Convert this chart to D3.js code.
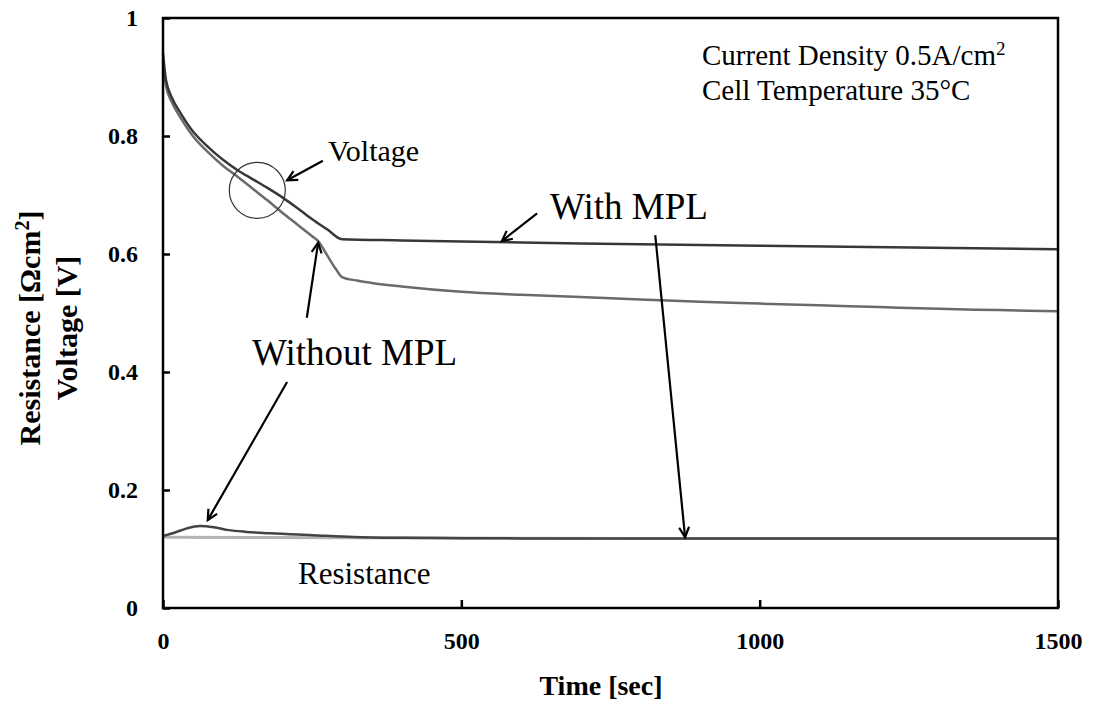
<!DOCTYPE html>
<html>
<head>
<meta charset="utf-8">
<script src="https://cdn.jsdelivr.net/npm/d3@7"></script>
<style>
  body { margin: 0; background: #fff; }
  text { font-family: "Liberation Serif", "Times New Roman", serif; fill: #000; }
</style>
</head>
<body>
<div id="chart"></div>
<script>
// tick values
var xTicks = [0, 500, 1000, 1500];
var yTicks = [0, 0.2, 0.4, 0.6, 0.8, 1];

// voltage, with MPL
var withMplTime = [0, 5, 15, 30, 50, 75, 100, 125, 150, 175, 200, 225, 250, 275, 300, 400, 500, 700, 1000, 1500];
var withMplVoltage = [0.94, 0.895, 0.865, 0.838, 0.808, 0.782, 0.760, 0.742, 0.727, 0.712, 0.696, 0.678, 0.659, 0.642, 0.625, 0.623, 0.621, 0.618, 0.614, 0.608];

// voltage, without MPL
var withoutMplTime = [0, 5, 15, 30, 50, 75, 100, 125, 150, 175, 200, 225, 250, 260, 275, 290, 300, 325, 350, 400, 500, 600, 700, 800, 900, 1000, 1100, 1200, 1300, 1400, 1500];
var withoutMplVoltage = [0.93, 0.885, 0.857, 0.83, 0.80, 0.773, 0.75, 0.731, 0.711, 0.691, 0.670, 0.65, 0.630, 0.622, 0.598, 0.574, 0.561, 0.555, 0.551, 0.545, 0.536, 0.531, 0.527, 0.523, 0.519, 0.516, 0.513, 0.51, 0.507, 0.505, 0.503];

// resistance
var withoutMplResTime = [0, 20, 40, 62, 85, 110, 140, 180, 250, 320, 400, 500, 600, 1000, 1500];
var withoutMplRes = [0.122, 0.128, 0.135, 0.139, 0.137, 0.132, 0.129, 0.1265, 0.1235, 0.1205, 0.119, 0.1183, 0.118, 0.118, 0.118];
var withMplResTime = [0, 300, 800, 1500];
var withMplRes = [0.120, 0.119, 0.118, 0.118];

var svgWidth = 1094;
var svgHeight = 711;

var margin = { top: 18, right: 36, bottom: 103, left: 163 };
var chartWidth = svgWidth - margin.left - margin.right;
var chartHeight = svgHeight - margin.top - margin.bottom;

var svg = d3.select("#chart")
            .append("svg")
            .attr("width", svgWidth)
            .attr("height", svgHeight);

var defs = svg.append("defs");
defs.append("marker")
    .attr("id", "head")
    .attr("markerUnits", "userSpaceOnUse")
    .attr("markerWidth", 14)
    .attr("markerHeight", 14)
    .attr("refX", 11)
    .attr("refY", 6)
    .attr("orient", "auto")
    .append("path")
    .attr("d", "M1,1 L11,6 L1,11")
    .attr("fill", "none")
    .attr("stroke", "#000")
    .attr("stroke-width", 2.2);

var chartGroup = svg.append("g").attr("transform", `translate(${margin.left}, ${margin.top})`);

var xScale = d3.scaleLinear().domain([0, 1500]).range([0, chartWidth]);
var yScale = d3.scaleLinear().domain([0, 1]).range([chartHeight, 0]);

var yFmt = d => (d === 0 || d === 1) ? String(d) : d.toFixed(1);

var xAxis = d3.axisBottom(xScale).tickValues(xTicks).tickSizeInner(-8).tickSizeOuter(0).tickPadding(24).tickFormat(d3.format("d"));
var yAxis = d3.axisLeft(yScale).tickValues(yTicks).tickSizeInner(-7).tickSizeOuter(0).tickPadding(25).tickFormat(yFmt);

var gx = chartGroup.append("g")
    .attr("transform", `translate(0, ${chartHeight})`)
    .call(xAxis);
var gy = chartGroup.append("g").call(yAxis);

[gx, gy].forEach(function(g) {
    g.select(".domain").remove();
    g.selectAll(".tick line").attr("stroke", "#000").attr("stroke-width", 2.5);
    g.selectAll(".tick text")
     .style("font-family", "'Liberation Serif', 'Times New Roman', serif")
     .style("font-size", "24px")
     .style("font-weight", "bold")
     .attr("fill", "#111");
});

// series
var line = d3.line()
    .x(d => xScale(d[0]))
    .y(d => yScale(d[1]))
    .curve(d3.curveMonotoneX);

var series = [
    { t: withMplResTime, v: withMplRes, color: "#b3b3b3", w: 3 },
    { t: withoutMplResTime, v: withoutMplRes, color: "#444", w: 2.5 },
    { t: withoutMplTime, v: withoutMplVoltage, color: "#6a6a6a", w: 2.5 },
    { t: withMplTime, v: withMplVoltage, color: "#383838", w: 2.5 }
];

series.forEach(function(s) {
    chartGroup.append("path")
        .datum(s.t.map((t, i) => [t, s.v[i]]))
        .attr("fill", "none")
        .attr("stroke", s.color)
        .attr("stroke-width", s.w)
        .attr("d", line);
});

// frame
chartGroup.append("rect")
    .attr("width", chartWidth)
    .attr("height", chartHeight)
    .attr("fill", "none")
    .attr("stroke", "#000")
    .attr("stroke-width", 2.5);

// circle on voltage curves
chartGroup.append("circle")
    .attr("cx", xScale(158))
    .attr("cy", yScale(0.708))
    .attr("r", 28)
    .attr("fill", "none")
    .attr("stroke", "#333")
    .attr("stroke-width", 1.2);

// arrows [t1, v1, t2, v2]
var arrows = [
    [268, 0.758, 208, 0.725],
    [627, 0.669, 568, 0.622],
    [825, 0.632, 875, 0.120],
    [241, 0.492, 260, 0.619],
    [208, 0.383, 75, 0.149]
];

chartGroup.selectAll(".arrow")
    .data(arrows)
    .enter()
    .append("line")
    .attr("class", "arrow")
    .attr("x1", d => xScale(d[0]))
    .attr("y1", d => yScale(d[1]))
    .attr("x2", d => xScale(d[2]))
    .attr("y2", d => yScale(d[3]))
    .attr("stroke", "#000")
    .attr("stroke-width", 2.2)
    .attr("marker-end", "url(#head)");

// labels
function label(x, y, size, parts, opts) {
    opts = opts || {};
    var t = svg.append("text")
        .attr("x", x)
        .attr("y", y)
        .style("font-size", size + "px")
        .style("font-weight", opts.bold ? "bold" : "normal")
        .attr("text-anchor", opts.anchor || "start");
    if (opts.rotate) t.attr("transform", `rotate(-90, ${x}, ${y})`);
    parts.forEach(function(p) {
        if (typeof p === "string") {
            t.append("tspan").text(p);
        } else {
            t.append("tspan")
             .attr("baseline-shift", "super")
             .style("font-size", Math.round(size * 0.65) + "px")
             .text(p.sup);
        }
    });
    return t;
}

label(702, 65, 29, ["Current Density 0.5A/cm", { sup: "2" }]);
label(702, 100, 29, ["Cell Temperature 35\u00B0C"]);
label(328, 161, 30, ["Voltage"]);
label(550, 219, 37, ["With MPL"]);
label(252, 365, 37, ["Without MPL"]);
label(298, 584, 31, ["Resistance"]);
label(601, 695, 28, ["Time [sec]"], { bold: true, anchor: "middle" });
label(40, 328, 30, ["Resistance [\u03A9cm", { sup: "2" }, "]"], { bold: true, anchor: "middle", rotate: true });
label(77, 328, 30, ["Voltage [V]"], { bold: true, anchor: "middle", rotate: true });
</script>
</body>
</html>
